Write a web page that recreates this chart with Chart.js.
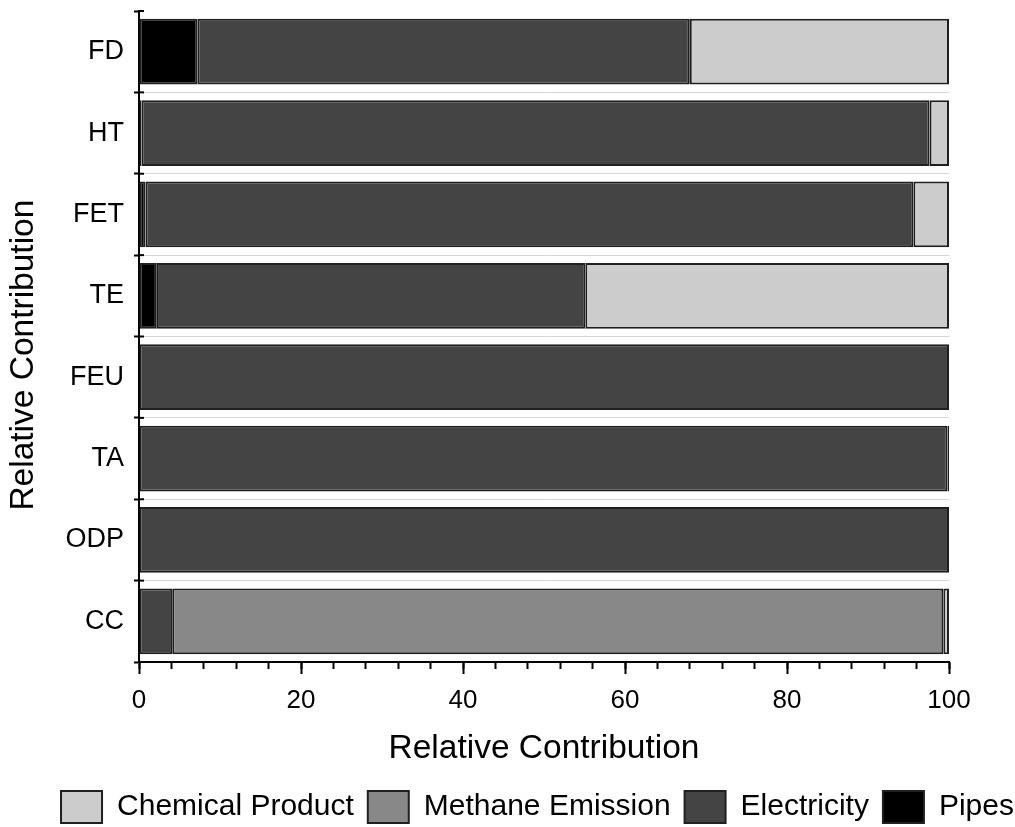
<!DOCTYPE html>
<html>
<head>
<meta charset="utf-8">
<script src="https://cdn.jsdelivr.net/npm/chart.js@4.4.1/dist/chart.umd.min.js"></script>
<style>
  html, body { margin: 0; padding: 0; background: #fff; }
  #wrap { width: 1015px; height: 827px; position: relative; }
</style>
</head>
<body>
<div id="wrap"><canvas id="c"></canvas></div>
<script>
const categories = ['FD', 'HT', 'FET', 'TE', 'FEU', 'TA', 'ODP', 'CC'];
const pipes       = [7.2, 0.3, 0.8, 2.2, 0, 0, 0, 0];
const electricity = [60.8, 97.3, 94.8, 52.9, 100, 99.8, 100, 4.1];
const methane     = [0, 0, 0, 0, 0, 0, 0, 95.2];
const chemical    = [32.0, 2.4, 4.4, 44.9, 0, 0.2, 0, 0.7];
const seriesNames = ['Pipes', 'Electricity', 'Methane Emission', 'Chemical Product'];
const axisTitle = 'Relative Contribution';

Chart.defaults.font.family = "'Liberation Sans', Arial, sans-serif";
Chart.defaults.color = '#000';

const borderCol = '#202020';
function ds(label, data, color) {
  return {
    label, data,
    backgroundColor: color,
    borderColor: borderCol,
    borderWidth: 2,
    borderSkipped: false,
    barPercentage: 0.807,
    categoryPercentage: 1.0
  };
}

const legendPos = {
  id: 'legendPos',
  afterLayout(chart) {
    const lg = chart.legend;
    lg.left = 25; lg.right = 1050; lg.width = 1025;
    lg.top = 777; lg.bottom = 827; lg.height = 50;
  }
};

const innerTicks = {
  id: 'innerTicks',
  afterDraw(chart) {
    const ys = chart.scales.y;
    const ctx = chart.ctx;
    const n = categories.length;
    const half = (ys.getPixelForValue(1) - ys.getPixelForValue(0)) / 2;
    ctx.save();
    ctx.strokeStyle = '#000';
    ctx.lineWidth = 2;
    for (let i = 0; i <= n; i++) {
      const y = i < n ? ys.getPixelForValue(i) - half : ys.getPixelForValue(n - 1) + half;
      ctx.beginPath();
      ctx.moveTo(ys.right, y);
      ctx.lineTo(ys.right + 5, y);
      ctx.stroke();
    }
    ctx.restore();
  }
};

new Chart(document.getElementById('c'), {
  type: 'bar',
  data: {
    labels: categories,
    datasets: [
      ds(seriesNames[0], pipes, '#000000'),
      ds(seriesNames[1], electricity, '#444444'),
      ds(seriesNames[2], methane, '#888888'),
      ds(seriesNames[3], chemical, '#cccccc')
    ]
  },
  options: {
    indexAxis: 'y',
    responsive: true,
    maintainAspectRatio: false,
    animation: false,
    layout: { padding: { top: 11, right: 0, left: 0, bottom: 2 } },
    plugins: {
      tooltip: { enabled: false },
      legend: {
        position: 'bottom',
        reverse: true,
        labels: {
          font: { size: 30 },
          boxWidth: 41,
          boxHeight: 32,
          padding: 14,
          color: '#000'
        }
      }
    },
    scales: {
      x: {
        stacked: true,
        min: 0, max: 100,
        position: 'bottom',
        weight: 1,
        afterFit(s) { s.height = 107; },
        ticks: { stepSize: 20, font: { size: 26 }, padding: 11, color: '#000', maxRotation: 0 },
        grid: { drawOnChartArea: false, tickLength: 12, tickWidth: 2, tickColor: '#000' },
        border: { display: true, color: '#000', width: 2 },
        title: { display: true, text: axisTitle, font: { size: 33.5 }, padding: { top: 0, bottom: 0 }, color: '#000' }
      },
      x2: {
        type: 'linear',
        min: 0, max: 100,
        position: 'bottom',
        weight: 0,
        afterFit(s) { s.height = 0; },
        ticks: { stepSize: 4, display: false },
        grid: { drawOnChartArea: false, tickLength: 7, tickWidth: 2, tickColor: '#000' },
        border: { display: false }
      },
      y: {
        stacked: true,
        afterFit(s) { s.width = 139; s.paddingTop = 0; s.paddingBottom = 0; },
        ticks: { font: { size: 27 }, padding: 10, color: '#000' },
        grid: {
          offset: true,
          drawOnChartArea: true,
          color: (c) => (c.index === 0 || c.index === categories.length) ? 'rgba(0,0,0,0)' : '#d6d6d6',
          lineWidth: 1,
          borderDash: [5, 4],
          tickColor: '#000',
          tickWidth: 2,
          tickLength: 5,
          tickBorderDash: []
        },
        border: { display: true, color: '#000', width: 2 },
        title: { display: true, text: axisTitle + '\u00a0\u00a0\u00a0\u00a0', font: { size: 33.5 }, padding: { top: 4, bottom: 0 }, color: '#000' }
      },
      y2: {
        type: 'linear',
        position: 'right',
        afterFit(s) { s.width = 66; s.paddingTop = 0; s.paddingBottom = 0; },
        ticks: { display: false },
        grid: { display: false, drawTicks: false },
        border: { display: false }
      }
    }
  },
  plugins: [legendPos, innerTicks]
});
</script>
</body>
</html>
